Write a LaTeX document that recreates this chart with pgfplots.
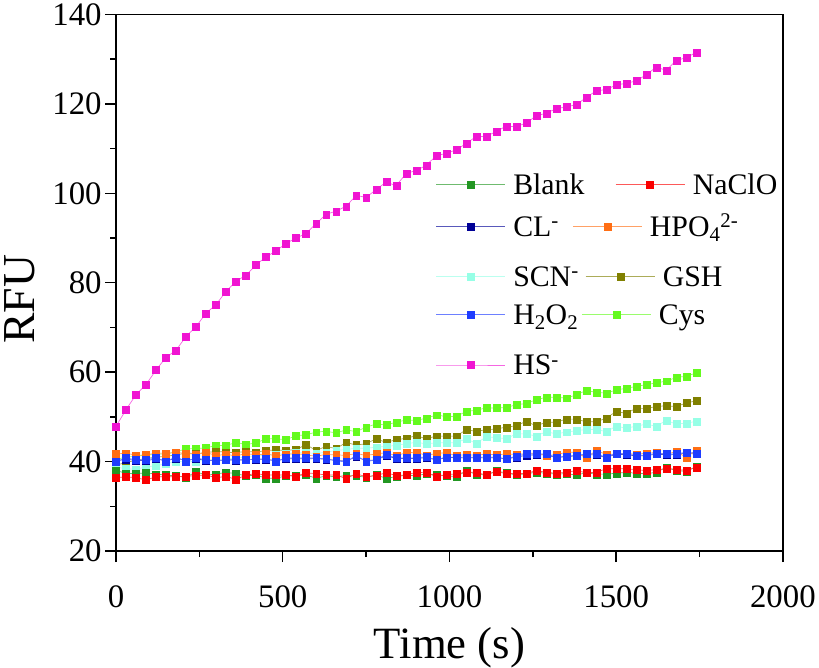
\documentclass[border=0pt]{standalone}
\usepackage{pgfplots}
\pgfplotsset{compat=1.18}
\usepackage{pgfplotstable}
\usepackage{fontspec}
\setmainfont{Liberation Serif}

\definecolor{cBlank}{RGB}{34,150,34}
\definecolor{cNaClO}{RGB}{250,0,0}
\definecolor{cCL}{RGB}{0,0,150}
\definecolor{cHPO}{RGB}{255,110,20}
\definecolor{cSCN}{RGB}{150,255,230}
\definecolor{cGSH}{RGB}{128,128,0}
\definecolor{cHO}{RGB}{30,60,255}
\definecolor{cCys}{RGB}{100,250,30}
\definecolor{cHS}{RGB}{240,20,210}

\pgfplotstableread{
t Bl Na Cl Hp Sc Gs Hd Cy Hs
0 38.0 36.4 40.2 41.7 38.8 39.2 40.0 40.5 47.9
30 37.4 36.6 40.5 41.9 38.4 39.8 40.8 41.0 51.6
60 37.3 36.4 40.3 41.4 38.3 40.3 40.4 41.2 55.0
90 37.5 35.9 40.2 41.5 38.8 40.7 40.4 41.5 57.2
120 37.2 36.6 40.6 41.9 39.1 41.0 40.8 41.6 60.5
150 37.0 36.6 40.2 41.9 39.5 41.2 40.1 41.8 63.3
180 36.8 36.6 40.7 42.0 40.1 41.5 41.0 42.1 64.9
210 36.5 36.7 40.3 41.9 39.9 41.9 40.1 42.9 68.0
240 37.7 36.9 40.6 41.6 40.1 41.8 40.8 42.9 70.2
270 37.0 37.0 40.3 42.0 40.3 42.0 40.4 43.1 73.2
300 37.2 36.4 40.2 41.4 40.5 42.3 40.2 43.6 75.1
330 37.6 36.7 40.4 41.6 40.6 42.1 40.4 43.6 78.1
360 37.3 36.0 40.3 41.3 40.8 42.0 40.4 44.3 80.3
390 36.8 37.0 40.4 41.8 41.0 42.3 40.4 43.8 81.7
420 37.0 37.3 40.5 41.5 41.2 42.1 40.6 44.2 84.0
450 36.3 37.0 40.5 41.7 41.5 42.5 40.6 45.1 85.8
480 36.3 37.0 40.2 41.3 41.6 42.6 40.1 45.1 87.1
510 36.8 37.0 40.6 41.6 41.8 42.5 40.8 44.9 88.8
540 36.9 36.7 40.7 41.8 42.0 42.7 40.8 45.8 90.0
570 37.0 37.5 40.6 41.5 42.0 43.8 40.8 46.0 91.0
600 36.3 37.3 40.7 41.2 41.8 42.5 40.8 46.6 93.2
630 36.8 37.0 40.5 41.6 42.1 43.4 40.6 46.8 95.3
660 36.6 37.0 40.3 41.5 42.5 42.9 40.2 46.4 96.0
690 36.9 36.2 40.1 41.4 42.7 44.3 39.9 47.1 97.1
720 36.8 37.3 41.1 41.8 43.0 43.7 41.4 46.7 99.5
750 36.5 36.6 40.2 41.4 43.0 44.0 40.0 47.7 99.1
780 37.0 36.9 40.4 41.7 43.2 45.1 40.4 48.4 100.8
810 36.3 37.5 41.3 42.0 43.4 44.3 41.6 48.2 102.5
840 36.6 36.9 40.7 41.3 43.6 44.9 40.8 48.8 101.7
870 37.0 37.0 40.7 42.0 44.0 45.2 40.8 49.3 104.4
900 36.8 37.6 40.7 42.1 44.3 45.8 40.8 49.2 105.1
930 37.3 37.5 40.9 41.4 44.0 45.1 41.1 49.7 106.2
960 37.0 36.7 40.4 41.8 44.2 45.7 40.4 50.4 108.4
990 36.9 37.0 40.9 42.0 44.2 45.7 41.0 50.1 108.9
1020 36.6 37.3 40.9 41.3 44.2 45.7 41.0 50.1 109.7
1050 37.9 37.6 40.8 41.6 45.1 47.1 41.0 51.2 111.1
1080 37.2 37.6 40.9 41.4 44.1 46.8 41.0 51.5 112.7
1110 37.0 37.0 40.8 41.7 45.5 47.1 41.0 52.0 112.7
1140 37.9 37.8 40.9 41.5 45.4 47.3 41.0 52.0 113.8
1170 37.5 37.3 40.6 41.7 45.1 47.7 40.6 52.1 115.0
1200 37.0 37.4 41.0 41.6 46.2 48.0 41.2 52.7 114.9
1230 37.3 37.3 41.4 41.8 46.2 49.0 41.7 53.0 115.7
1260 37.6 38.0 41.5 41.9 45.7 48.0 41.7 53.8 117.3
1290 37.4 37.6 41.5 41.4 46.7 48.8 41.7 54.4 117.9
1320 37.2 37.4 40.9 41.5 46.2 48.8 41.0 54.4 118.9
1350 37.3 37.6 41.1 42.1 46.6 49.5 41.2 54.2 119.3
1380 37.0 38.0 41.3 42.1 46.9 49.5 41.4 54.9 119.8
1410 37.5 37.5 41.5 40.8 47.2 48.9 41.7 55.9 121.4
1440 37.2 37.6 41.5 42.5 47.2 48.9 41.7 55.5 122.9
1470 37.2 38.4 40.9 41.6 46.7 49.7 41.0 55.3 123.2
1500 37.4 38.4 41.7 41.7 47.9 51.2 41.9 56.0 124.2
1530 37.6 38.4 41.5 41.9 47.5 50.8 41.7 56.4 124.6
1560 37.4 38.2 41.3 41.6 47.9 51.9 41.4 56.8 125.1
1590 37.3 38.0 41.3 41.9 48.4 51.9 41.4 57.2 126.5
1620 37.6 38.2 41.7 42.0 47.9 52.3 41.9 57.6 128.2
1650 38.7 38.4 41.5 41.7 49.2 52.5 41.7 58.0 127.5
1680 38.0 38.3 41.6 42.2 48.4 52.3 41.7 58.8 129.7
1710 37.8 38.0 41.9 41.0 48.6 53.1 42.1 59.1 130.3
1740 38.9 38.7 41.7 42.5 49.0 53.6 41.9 59.8 131.5
}\datatable

\pgfplotsset{
  ser/.style={color=#1!65!white, line width=0.7bp, mark=square*, mark size=3.5bp,
    mark options={draw=#1, fill=#1, line width=0.2bp, solid}},
  base/.style={scale only axis, width=668.5bp, height=538bp,
    xmin=0, xmax=2000, ymin=20, ymax=140},
}

\newcommand{\legitem}[4]{%
\begin{axis}[base, hide axis,
  legend style={at={(axis cs:#1,#2)}, anchor=west, draw=none, fill=none,
    inner sep=0pt, outer sep=0pt, font=\fontsize{30}{30}\selectfont,
    nodes={inner sep=0pt, text height=20bp, text depth=0bp},
    /tikz/every odd column/.append style={column sep=8bp}},
  legend image code/.code={\draw[mark repeat=2,mark phase=2]
    plot coordinates {(0bp,0bp) (34.5bp,0bp) (69bp,0bp)};}]
\addlegendimage{ser=#3}
\addlegendentry{#4}
\end{axis}}

\begin{document}
\begin{tikzpicture}
\begin{axis}[base,
  xtick={0,500,1000,1500,2000}, ytick={20,40,...,140},
  minor x tick num=1, minor y tick num=1,
  tick align=outside, xtick pos=bottom, ytick pos=left,
  major tick length=11bp, minor tick length=6bp,
  axis line style={line width=1.6bp},
  every tick/.style={line width=1.5bp, black},
  scaled x ticks=false,
  /pgf/number format/1000 sep={},
  /pgf/number format/assume math mode=true,
  tick label style={font=\fontsize{33}{33}\selectfont},
  xticklabel style={yshift=-20bp},
  xlabel={Time (s)}, ylabel={RFU},
  xlabel style={font=\fontsize{45}{45}\selectfont,
    at={(axis description cs:0.5,-0.1998)}, anchor=base, inner sep=0pt},
  ylabel style={font=\fontsize{46}{46}\selectfont,
    at={(axis description cs:-0.1743,0.469)}, anchor=north, inner sep=5bp},
]
\addplot[ser=cCys] table[x=t, y=Cy] {\datatable};
\addplot[ser=cGSH] table[x=t, y=Gs] {\datatable};
\addplot[ser=cSCN] table[x=t, y=Sc] {\datatable};
\addplot[ser=cBlank] table[x=t, y=Bl] {\datatable};
\addplot[ser=cNaClO] table[x=t, y=Na] {\datatable};
\addplot[ser=cCL] table[x=t, y=Cl] {\datatable};
\addplot[ser=cHPO] table[x=t, y=Hp] {\datatable};
\addplot[ser=cHO] table[x=t, y=Hd] {\datatable};
\addplot[ser=cHS] table[x=t, y=Hs] {\datatable};
\end{axis}
\legitem{958.9}{102.0}{cBlank}{Blank}
\legitem{1497.4}{102.0}{cNaClO}{NaClO}
\legitem{958.9}{92.6}{cCL}{CL\textsuperscript{-}}
\legitem{1368.7}{92.6}{cHPO}{HPO\textsubscript{4}\textsuperscript{2-}}
\legitem{958.9}{81.45}{cSCN}{SCN\textsuperscript{-}}
\legitem{1407.6}{81.45}{cGSH}{GSH}
\legitem{958.9}{72.97}{cHO}{H\textsubscript{2}O\textsubscript{2}}
\legitem{1395.7}{72.97}{cCys}{Cys}
\legitem{958.9}{61.6}{cHS}{HS\textsuperscript{-}}
\end{tikzpicture}
\end{document}
